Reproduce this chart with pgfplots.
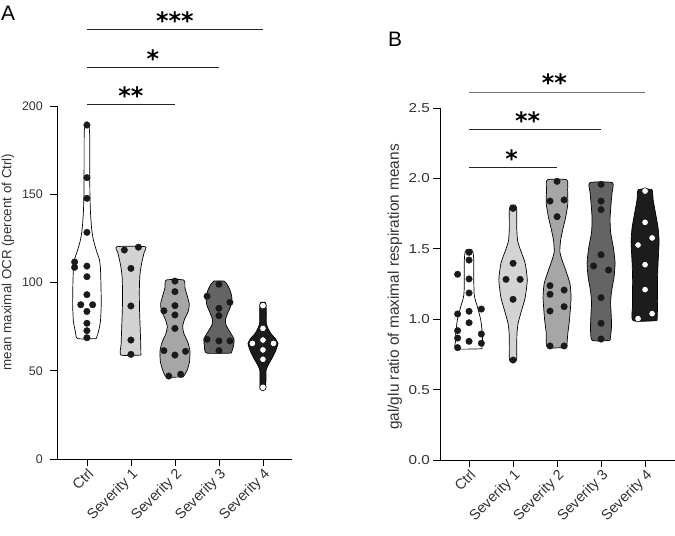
\documentclass[border=0pt]{standalone}
\usepackage{fontspec}
\setmainfont{Liberation Sans}
\newfontfamily\wide[FakeStretch=1.18]{Liberation Sans}
\newfontfamily\starfont{DejaVu Sans}
\usepackage{pgfplots}
\pgfplotsset{compat=1.18}
\definecolor{txt}{HTML}{333333}
\definecolor{s1}{HTML}{D3D3D3}
\definecolor{s2}{HTML}{A6A6A6}
\definecolor{s3}{HTML}{646464}
\definecolor{s4}{HTML}{1C1C1C}
\definecolor{dot}{HTML}{1A1A1A}
\pgfplotsset{
  vio/.style={
    scale only axis, width=235bp,
    axis lines=left, axis line style={-, line width=0.8bp, black},
    tick align=outside, major tick length=7bp,
    tick style={line width=0.8bp, black},
    xtick={0,1,2,3,4},
    xticklabels={Ctrl,Severity 1,Severity 2,Severity 3,Severity 4},
    xticklabel style={rotate=45, anchor=north east, inner sep=1bp,
      font=\fontsize{14.5}{15}\selectfont, text=txt},
    xticklabel shift=0bp,
    yticklabel style={inner sep=0pt, text=txt},
    clip=false,
    /pgf/number format/assume math mode=true,
  },
  shape/.style={draw=black, line width=0.7bp, smooth, tension=0.35},
  bdot/.style={only marks, mark=*, mark size=3.3bp, mark options={fill=dot, draw=dot, line width=0.3bp}},
  wdot/.style={only marks, mark=*, mark size=3.3bp, mark options={fill=white, draw=black, line width=0.5bp}},
}
\newcommand{\stars}[1]{{\starfont\bfseries\fontsize{24}{24}\selectfont #1}}
\begin{document}
\begin{tikzpicture}
\path[use as bounding box] (0,0) rectangle (675bp,536bp);
% ---------------- Panel A ----------------
\begin{axis}[vio, at={(57bp,77bp)}, anchor=south west, height=353bp,
  xmin=-0.68, xmax=4.66, ymin=0, ymax=200,
  ytick={0,50,100,150,200},
  yticklabel style={font=\fontsize{12.5}{13}\selectfont},
  yticklabel shift=7bp]
% violins
\addplot[shape, fill=white] coordinates {(0.211,68.2) (0.261,72) (0.307,78) (0.325,88) (0.318,100) (0.307,108) (0.284,113) (0.216,118) (0.148,124) (0.109,130) (0.080,140) (0.068,150) (0.064,165) (0.064,180) (0.059,186) (0.04,189.5) (0.015,191)
 (-0.015,191) (-0.04,189.5) (-0.059,186) (-0.064,180) (-0.064,165) (-0.068,150) (-0.080,140) (-0.109,130) (-0.148,124) (-0.216,118) (-0.284,113) (-0.307,108) (-0.318,100) (-0.325,88) (-0.307,78) (-0.261,72) (-0.211,68.2) (0.211,68.2)};
\addplot[shape, fill=s1] coordinates {(1.227,58.9) (1.223,65) (1.209,75) (1.195,85) (1.191,95) (1.2,103) (1.223,108) (1.261,113) (1.3,117) (1.318,120.3)
 (0.682,120.3) (0.7,117) (0.739,113) (0.777,108) (0.8,103) (0.809,95) (0.805,85) (0.791,75) (0.777,65) (0.773,58.9) (1.227,58.9)};
\addplot[shape, fill=s2] coordinates {(2.189,46.5) (2.273,50) (2.33,55) (2.341,61) (2.295,66) (2.205,71) (2.175,75) (2.216,79) (2.307,84) (2.325,88) (2.273,93) (2.227,97) (2.198,101.4)
 (1.802,101.4) (1.773,97) (1.727,93) (1.675,88) (1.693,84) (1.784,79) (1.825,75) (1.795,71) (1.705,66) (1.659,61) (1.67,55) (1.727,50) (1.811,46.5) (2.189,46.5)};
\addplot[shape, fill=s3] coordinates {(3.28,60) (3.33,64) (3.341,68) (3.25,72) (3.159,76) (3.148,79) (3.205,83) (3.273,87) (3.295,91) (3.273,94) (3.227,97) (3.17,99.5) (3.12,100.8)
 (2.88,100.8) (2.83,99.5) (2.773,97) (2.727,94) (2.705,91) (2.727,87) (2.795,83) (2.852,79) (2.841,76) (2.75,72) (2.659,68) (2.67,64) (2.72,60) (3.28,60)};
\addplot[shape, fill=s4] coordinates {(4.06,39.3) (4.068,45) (4.07,50) (4.114,53) (4.205,57) (4.284,61) (4.341,65.5) (4.273,68.5) (4.182,71) (4.114,74) (4.075,77) (4.075,83) (4.06,88.5)
 (3.94,88.5) (3.925,83) (3.925,77) (3.886,74) (3.818,71) (3.727,68.5) (3.659,65.5) (3.716,61) (3.795,57) (3.886,53) (3.93,50) (3.932,45) (3.94,39.3) (4.06,39.3)};
% points
\addplot[bdot] coordinates {(0,189.2) (0,159.4) (0,147.7) (0,128.4) (-0.28,111.6) (-0.28,108.6) (0,109.3) (0,103.3) (0,93.1) (-0.14,87.4) (0.13,87.4) (0,83.6) (0,76.9) (0,72.7) (0,68.7)};
\addplot[bdot] coordinates {(0.85,118.4) (1.17,120.0) (1.0,108) (1.0,86.7) (1.0,67.4) (1.0,59.3)};
\addplot[bdot] coordinates {(2,100.8) (2,94.8) (2,86.9) (1.75,84.0) (2,81.6) (2,74.0) (1.75,61.4) (2.24,61.0) (2,58.9) (2.13,48.0) (1.86,47.0)};
\addplot[bdot] coordinates {(3,99.0) (2.73,92.2) (3.25,88.8) (3,85.4) (3,81.2) (2.73,67.8) (3,66.9) (3.25,66.9) (3,61.4)};
\addplot[wdot] coordinates {(4,86.9) (4,74.0) (4,67.4) (3.76,65.5) (4.24,65.5) (4,61.8) (4,56.5) (4,40.6)};
% significance
\draw[line width=0.8bp, black!85] (axis cs:0,243.6) -- (axis cs:4,243.6);
\draw[line width=0.8bp, black!85] (axis cs:0,222) -- (axis cs:3,222);
\draw[line width=0.8bp, black!85] (axis cs:0,201) -- (axis cs:2,201);
\node[anchor=base, inner sep=0pt] at (axis cs:2,243.6) {\stars{***}};
\node[anchor=base, inner sep=0pt] at (axis cs:1.5,222) {\stars{*}};
\node[anchor=base, inner sep=0pt] at (axis cs:1,201) {\stars{**}};
\end{axis}
% ---------------- Panel B ----------------
\begin{axis}[vio, at={(440bp,76bp)}, anchor=south west, height=352bp,
  xmin=-0.66, xmax=4.68, ymin=0, ymax=2.5,
  ytick={0,0.5,1,1.5,2,2.5},
  yticklabel style={font=\wide\fontsize{13}{13}\selectfont,
    /pgf/number format/.cd, fixed, fixed zerofill, precision=1},
  yticklabel shift=3bp]
\addplot[shape, fill=white] coordinates {(0.295,0.79) (0.305,0.85) (0.302,0.9) (0.266,0.994) (0.189,1.089) (0.14,1.14) (0.114,1.184) (0.107,1.3) (0.107,1.42) (0.09,1.475) (0.05,1.495)
 (-0.05,1.495) (-0.09,1.475) (-0.107,1.42) (-0.107,1.3) (-0.114,1.184) (-0.14,1.14) (-0.189,1.089) (-0.266,0.994) (-0.302,0.9) (-0.305,0.85) (-0.295,0.79) (0.295,0.79)};
\addplot[shape, fill=s1] coordinates {(1.06,0.70) (1.084,0.72) (1.084,0.8) (1.089,0.9) (1.114,0.97) (1.182,1.05) (1.273,1.15) (1.323,1.28) (1.273,1.4) (1.159,1.5) (1.102,1.56) (1.084,1.65) (1.084,1.78) (1.05,1.81)
 (0.95,1.81) (0.916,1.78) (0.916,1.65) (0.898,1.56) (0.841,1.5) (0.727,1.4) (0.677,1.28) (0.727,1.15) (0.818,1.05) (0.886,0.97) (0.911,0.9) (0.916,0.8) (0.916,0.72) (0.94,0.70) (1.06,0.70)};
\addplot[shape, fill=s2] coordinates {(2.22,0.8) (2.245,0.9) (2.284,1.0) (2.318,1.15) (2.295,1.25) (2.205,1.34) (2.114,1.42) (2.064,1.48) (2.08,1.56) (2.132,1.64) (2.193,1.72) (2.245,1.82) (2.239,1.92) (2.22,1.99)
 (1.78,1.99) (1.761,1.92) (1.755,1.82) (1.807,1.72) (1.868,1.64) (1.92,1.56) (1.936,1.48) (1.886,1.42) (1.795,1.34) (1.705,1.25) (1.682,1.15) (1.716,1.0) (1.755,0.9) (1.78,0.8) (2.22,0.8)};
\addplot[shape, fill=s3] coordinates {(3.205,0.85) (3.239,0.95) (3.227,1.05) (3.216,1.12) (3.239,1.2) (3.295,1.3) (3.318,1.4) (3.284,1.5) (3.216,1.62) (3.205,1.72) (3.227,1.82) (3.25,1.9) (3.255,1.97)
 (2.745,1.97) (2.75,1.9) (2.773,1.82) (2.795,1.72) (2.784,1.62) (2.716,1.5) (2.682,1.4) (2.705,1.3) (2.761,1.2) (2.784,1.12) (2.773,1.05) (2.761,0.95) (2.795,0.85) (3.205,0.85)};
\addplot[shape, fill=s4] coordinates {(4.273,0.99) (4.284,1.1) (4.284,1.2) (4.284,1.3) (4.295,1.4) (4.318,1.55) (4.295,1.65) (4.239,1.75) (4.182,1.85) (4.152,1.92)
 (3.848,1.92) (3.818,1.85) (3.761,1.75) (3.705,1.65) (3.682,1.55) (3.705,1.4) (3.716,1.3) (3.716,1.2) (3.716,1.1) (3.727,0.99) (4.273,0.99)};
\addplot[bdot] coordinates {(0,1.475) (0,1.42) (-0.26,1.319) (0,1.286) (0,1.186) (0.28,1.072) (0,1.056) (-0.26,1.037) (0,0.975) (-0.26,0.919) (0.28,0.895) (-0.26,0.866) (0,0.843) (0.28,0.829) (-0.26,0.798)};
\addplot[bdot] coordinates {(1,1.787) (1,1.397) (0.84,1.283) (1.16,1.283) (1,1.141) (1,0.71)};
\addplot[bdot] coordinates {(2,1.979) (1.84,1.839) (2.16,1.847) (2,1.728) (1.84,1.238) (2.16,1.207) (1.84,1.177) (2.16,1.089) (1.84,1.058) (1.84,0.81) (2.16,0.81)};
\addplot[bdot] coordinates {(3,1.958) (3,1.839) (3,1.778) (3,1.458) (2.83,1.378) (3.17,1.349) (3,1.153) (3,0.971) (3,0.859)};
\addplot[wdot] coordinates {(4,1.91) (4,1.688) (4.16,1.577) (3.84,1.527) (4,1.387) (4,1.21) (3.84,1.004) (4.16,1.039)};
\draw[line width=0.8bp, black!55] (axis cs:0,2.614) -- (axis cs:4,2.614);
\draw[line width=0.8bp, black!85] (axis cs:0,2.35) -- (axis cs:3,2.35);
\draw[line width=0.8bp, black!85] (axis cs:0,2.08) -- (axis cs:2,2.08);
\node[anchor=base, inner sep=0pt] at (axis cs:1.94,2.614) {\stars{**}};
\node[anchor=base, inner sep=0pt] at (axis cs:1.33,2.35) {\stars{**}};
\node[anchor=base, inner sep=0pt] at (axis cs:0.97,2.08) {\stars{*}};
\end{axis}
% labels
\node[rotate=90, text=txt, font=\fontsize{13.4}{14}\selectfont] at (8bp,274bp) {mean maximal OCR (percent of Ctrl)};
\node[rotate=90, text=txt, font=\fontsize{15.5}{16}\selectfont] at (395bp,249bp) {gal/glu ratio of maximal respiration means};
\node[anchor=base west, inner sep=0pt, font=\fontsize{21}{21}\selectfont] at (1bp,515bp) {A};
\node[anchor=base west, inner sep=0pt, font=\fontsize{21}{21}\selectfont] at (388bp,489bp) {B};
\end{tikzpicture}
\end{document}
